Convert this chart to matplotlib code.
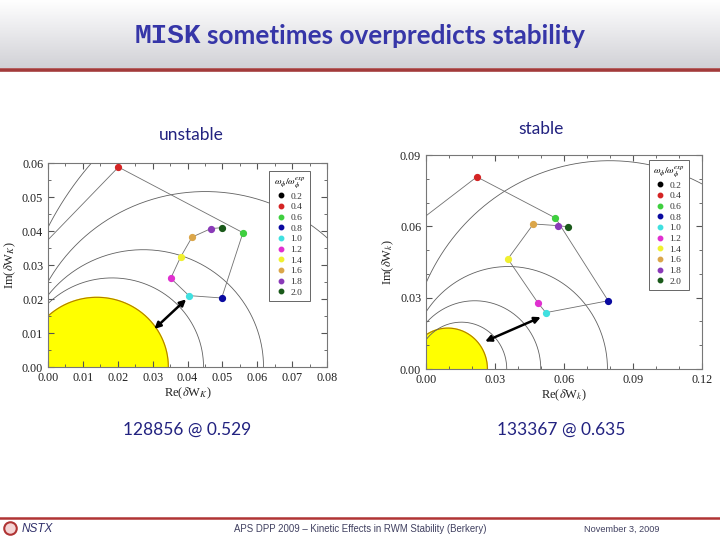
import numpy as np
import matplotlib
matplotlib.use("Agg")
import matplotlib.pyplot as plt
from matplotlib.lines import Line2D
from matplotlib.ticker import MultipleLocator, FormatStrFormatter

plt.rcParams['mathtext.fontset'] = 'stix'

# ---------------- data ----------------
omega_labels = ["0.2", "0.4", "0.6", "0.8", "1.0", "1.2", "1.4", "1.6", "1.8", "2.0"]
point_colors = ["#000000", "#d42424", "#3fcf3f", "#0a0aa0", "#40e0e0",
                "#e030d0", "#f0f030", "#dba64a", "#8a3ab8", "#1a5a1a"]

# left panel: 128856 @ 0.529 (unstable)
left_re = [-0.0050, 0.0202, 0.0559, 0.0498, 0.0404, 0.0352, 0.0380, 0.0413, 0.0467, 0.0500]
left_im = [0.0321, 0.0588, 0.0395, 0.0203, 0.0210, 0.0261, 0.0323, 0.0382, 0.0407, 0.0410]
left_arc_centers = [0.0184, 0.0273, 0.0451, 0.0830]
left_arc_radii = [0.0262, 0.0345, 0.0516, 0.0926]
left_disk = (0.0140, 0.0205)   # center, radius of stable region
left_arrow = ((0.0305, 0.0112), (0.0396, 0.0199))

# right panel: 133367 @ 0.635 (stable)
right_re = [-0.0050, 0.0221, 0.0563, 0.0792, 0.0521, 0.0486, 0.0356, 0.0467, 0.0572, 0.0618]
right_im = [0.0607, 0.0808, 0.0635, 0.0287, 0.0237, 0.0279, 0.0463, 0.0610, 0.0603, 0.0598]
right_arc_centers = [0.0154, 0.0212, 0.0358, 0.0798]
right_arc_radii = [0.0197, 0.0287, 0.0431, 0.0876]
right_disk = (0.0095, 0.0172)
right_arrow = ((0.0257, 0.0116), (0.0499, 0.0218))

left_xticks = [0.00, 0.01, 0.02, 0.03, 0.04, 0.05, 0.06, 0.07, 0.08]
left_yticks = [0.00, 0.01, 0.02, 0.03, 0.04, 0.05, 0.06]
right_xticks = [0.00, 0.03, 0.06, 0.09, 0.12]
right_yticks = [0.00, 0.03, 0.06, 0.09]

W, H = 720, 540
fig = plt.figure(figsize=(7.2, 5.4), dpi=100)


def fr(x0, y0, x1, y1):
    return [x0 / W, 1 - y1 / H, (x1 - x0) / W, (y1 - y0) / H]


# ---------------- header ----------------
hax = fig.add_axes(fr(0, 0, W, 68))
grad = np.linspace(0, 1, 100)[:, None]
c0 = np.array([1.0, 1.0, 1.0])
c1 = np.array([0.82, 0.82, 0.84])
img = c0[None, None, :] * (1 - grad[..., None]) + c1[None, None, :] * grad[..., None]
hax.imshow(np.repeat(img, 2, axis=1), aspect='auto', extent=[0, 1, 0, 1], origin='upper')
hax.set_axis_off()
fig.add_artist(Line2D([0, 1], [1 - 70 / H, 1 - 70 / H], color='#a23a3a', lw=2.6,
                      transform=fig.transFigure))

title_color = '#3636a8'
fig.text(201 / W, 1 - 36 / H, "MISK", family='Liberation Mono', weight='bold',
         fontsize=20, color=title_color, ha='right', va='center')
fig.text(207 / W, 1 - 36 / H, "sometimes overpredicts stability", family='Lato',
         weight='bold', fontsize=18.8, color=title_color, ha='left', va='center')

# ---------------- footer ----------------
fig.add_artist(Line2D([0, 1], [1 - 518 / H, 1 - 518 / H], color='#b03434', lw=1.8,
                      transform=fig.transFigure))
fig.add_artist(Line2D([10 / W], [1 - 528 / H], marker='o', ms=9, mfc='#f4d4d4',
                      mec='#b03434', mew=1.5, transform=fig.transFigure))
fig.text(22 / W, 1 - 529 / H, "NSTX", family='Liberation Sans', style='italic',
         fontsize=8.5, color='#30306a', ha='left', va='center')
fig.text(360 / W, 1 - 529 / H,
         "APS DPP 2009 \u2013 Kinetic Effects in RWM Stability (Berkery)",
         family='Liberation Sans', fontsize=6.9, color='#404060', ha='center', va='center')
fig.text(622 / W, 1 - 529 / H, "November 3, 2009", family='Liberation Sans',
         fontsize=6.6, color='#404060', ha='center', va='center')

# ---------------- panel labels ----------------
lab_color = '#222280'
fig.text(191 / W, 1 - 135 / H, "unstable", family='Lato', fontsize=12.5,
         color=lab_color, ha='center', va='center')
fig.text(541 / W, 1 - 129 / H, "stable", family='Lato', fontsize=12.5,
         color=lab_color, ha='center', va='center')
fig.text(187 / W, 1 - 430 / H, "128856 @ 0.529", family='Lato', fontsize=12.5,
         color=lab_color, ha='center', va='center')
fig.text(561 / W, 1 - 430 / H, "133367 @ 0.635", family='Lato', fontsize=12.5,
         color=lab_color, ha='center', va='center')


def panel(rect, re, im, centers, radii, disk, arrow, xticks, yticks, xminor, yminor,
          sub, leg_x, leg_y):
    ax = fig.add_axes(rect)
    xmax, ymax = xticks[-1], yticks[-1]
    th = np.linspace(0, np.pi, 400)
    # stable region
    dc, dr = disk
    ax.fill(dc + dr * np.cos(th), dr * np.sin(th), color='#ffff00', zorder=1)
    ax.plot(dc + dr * np.cos(th), dr * np.sin(th), color='#b07a00', lw=0.8, zorder=2)
    for c, r in zip(centers, radii):
        ax.plot(c + r * np.cos(th), r * np.sin(th), color='#606060', lw=0.6, zorder=2)
    ax.plot(re, im, color='#707070', lw=0.6, zorder=3)
    for x, y, col in zip(re, im, point_colors):
        ax.plot(x, y, 'o', ms=4.2, color=col, mec=col, zorder=4)
    (x0, y0), (x1, y1) = arrow
    ax.annotate("", xy=(x0, y0), xytext=(x1, y1),
                arrowprops=dict(arrowstyle='<|-|>', color='black', lw=1.8,
                                mutation_scale=9, shrinkA=0, shrinkB=0), zorder=5)
    ax.set_xlim(0, xmax)
    ax.set_ylim(0, ymax)
    ax.set_xticks(xticks)
    ax.set_yticks(yticks)
    ax.xaxis.set_minor_locator(MultipleLocator(xminor))
    ax.yaxis.set_minor_locator(MultipleLocator(yminor))
    ax.xaxis.set_major_formatter(FormatStrFormatter('%.2f'))
    ax.yaxis.set_major_formatter(FormatStrFormatter('%.2f'))
    ax.tick_params(which='both', direction='in', top=True, right=True, colors='#555555',
                   labelcolor='#222222', labelsize=8.7)
    ax.tick_params(which='major', length=4)
    ax.tick_params(which='minor', length=2)
    for lbl in ax.get_xticklabels() + ax.get_yticklabels():
        lbl.set_family('Liberation Serif')
    for s in ax.spines.values():
        s.set_color('#777777')
        s.set_linewidth(0.8)
    ax.set_xlabel(r"Re($\delta$W$_{%s}$)" % sub, family='Liberation Serif', fontsize=9,
                  color='#222222', labelpad=1)
    ax.set_ylabel(r"Im($\delta$W$_{%s}$)" % sub, family='Liberation Serif', fontsize=9,
                  color='#222222', labelpad=3)
    handles = [Line2D([], [], ls='none', marker='o', ms=3.2, color=c) for c in point_colors]
    leg = ax.legend(handles, omega_labels, loc='upper right', bbox_to_anchor=(leg_x, leg_y),
                    title=r"$\omega_\phi/\omega_\phi^{exp}$", fancybox=False,
                    framealpha=1, edgecolor='#666666', handlelength=0.8, handletextpad=0.6,
                    labelspacing=0.22, borderpad=0.45,
                    prop={'family': 'Liberation Serif', 'size': 6.8},
                    title_fontsize=6.8)
    leg.get_frame().set_linewidth(0.7)
    for t in leg.get_texts():
        t.set_color('#333333')
    return ax


panel(fr(48, 163, 327, 367), left_re, left_im, left_arc_centers, left_arc_radii,
      left_disk, left_arrow, left_xticks, left_yticks, 0.005, 0.005, 'K', 0.955, 0.985)
panel(fr(426, 155, 702, 369), right_re, right_im, right_arc_centers, right_arc_radii,
      right_disk, right_arrow, right_xticks, right_yticks, 0.01, 0.01, 'k', 0.97, 1.0)

fig.savefig("out.png", dpi=100)
